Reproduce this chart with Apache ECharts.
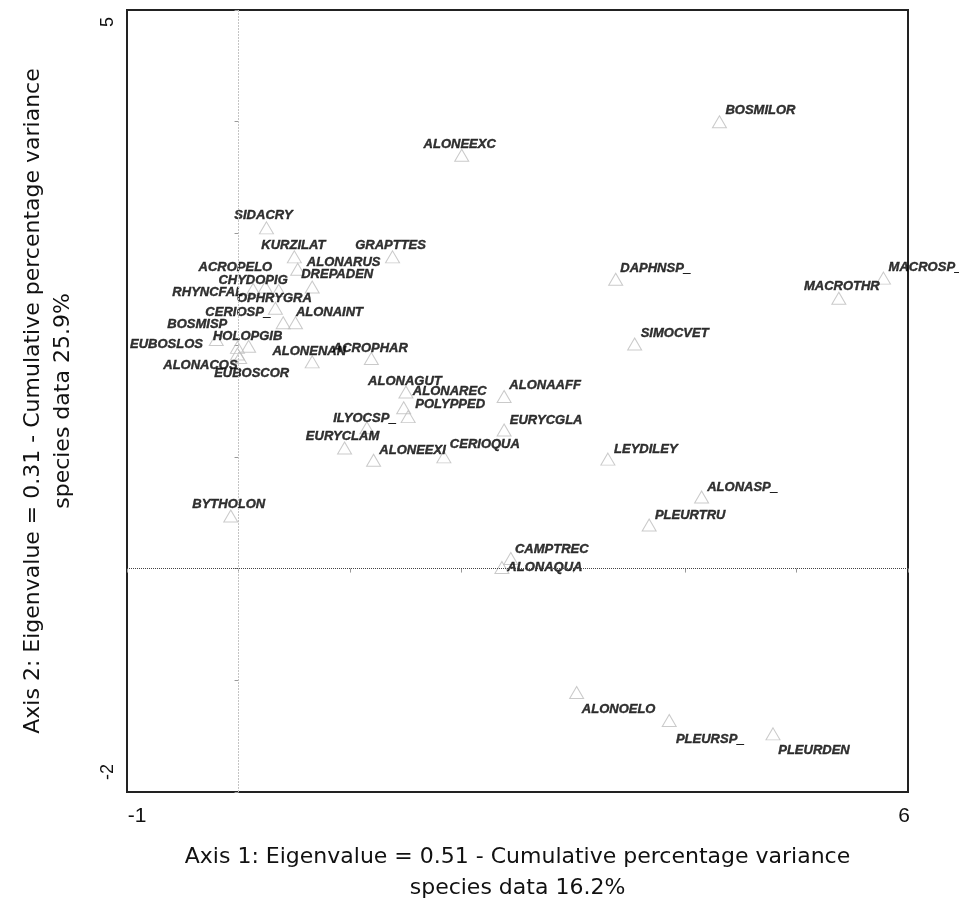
<!DOCTYPE html>
<html>
<head>
<meta charset="utf-8">
<script src="https://cdn.jsdelivr.net/npm/echarts@6/dist/echarts.min.js"></script>
<style>
  html, body { margin: 0; padding: 0; background: #fff; }
  #chart { width: 959px; height: 902px; }
</style>
</head>
<body>
<div id="chart"></div>
<script>
// Species scores on the first two ordination axes
const species = ['BOSMILOR','ALONEEXC','SIDACRY','KURZILAT','GRAPTTES','ALONARUS','DREPADEN','ACROPELO','CHYDOPIG','RHYNCFAL','OPHRYGRA','CERIOSP_','ALONAINT','BOSMISP','HOLOPGIB','EUBOSLOS','ALONACOS','EUBOSCOR','ALONENAN','ACROPHAR','ALONAGUT','ALONAREC','POLYPPED','ALONAAFF','ILYOCSP_','EURYCGLA','EURYCLAM','ALONEEXI','CERIOQUA','DAPHNSP_','MACROSP_','MACROTHR','SIMOCVET','LEYDILEY','ALONASP_','PLEURTRU','BYTHOLON','CAMPTREC','ALONAQUA','ALONOELO','PLEURSP_','PLEURDEN'];

const axis1 = [4.31, 2.00, 0.25, 0.50, 1.38, 0.53, 0.66, 0.24, 0.13, 0.36, 0.33, 0.40, 0.51, -0.20, 0.09, -0.01, -0.01, 0.01, 0.66, 1.19, 1.50, 1.48, 1.52, 2.38, 1.15, 2.38, 0.95, 1.21, 1.84, 3.38, 5.78, 5.38, 3.55, 3.31, 4.15, 3.68, -0.07, 2.44, 2.36, 3.03, 3.86, 4.79];

const axis2 = [4.00, 3.70, 3.05, 2.79, 2.79, 2.68, 2.52, 2.52, 2.50, 2.49, 2.33, 2.20, 2.20, 2.05, 1.99, 1.98, 1.92, 1.89, 1.85, 1.88, 1.58, 1.44, 1.36, 1.54, 1.26, 1.24, 1.08, 0.97, 1.00, 2.59, 2.60, 2.42, 2.01, 0.98, 0.64, 0.39, 0.47, 0.09, 0.01, -1.11, -1.36, -1.48];

const xTickLabels = [-1, 6];
const yTickLabels = [5, -2];

const xTitle = 'Axis 1: Eigenvalue = 0.51 - Cumulative percentage variance\nspecies data 16.2%';
const yTitle = 'Axis 2: Eigenvalue = 0.31 - Cumulative percentage variance\nspecies data 25.9%';

// Label placement around each triangle (pixel shift of the label centre)
const labelOffsets = {
  BOSMILOR: [41, -11], ALONEEXC: [-2, -11], SIDACRY: [-3, -12], KURZILAT: [-1, -11],
  GRAPTTES: [-2, -11], ALONARUS: [46, -7], DREPADEN: [25, -13], ACROPELO: [-30, -20],
  CHYDOPIG: [0, -9], RHYNCFAL: [-71, 2], OPHRYGRA: [-1, -10], CERIOSP_: [-45, -10],
  ALONAINT: [34, -10], BOSMISP: [-19, -15], HOLOPGIB: [-1, -10], EUBOSLOS: [-71, -3],
  ALONACOS: [-37, 11], EUBOSCOR: [12, 16], ALONENAN: [-3, -10], ACROPHAR: [-1, -10],
  ALONAGUT: [-1, -11], ALONAREC: [46, -16], POLYPPED: [42, -12], ALONAAFF: [41, -11],
  ILYOCSP_: [-2, -9], EURYCGLA: [42, -10], EURYCLAM: [-2, -11], ALONEEXI: [39, -10],
  CERIOQUA: [41, -12], DAPHNSP_: [40, -11], MACROSP_: [42, -11], MACROTHR: [3, -12],
  SIMOCVET: [40, -11], LEYDILEY: [38, -10], ALONASP_: [41, -10], PLEURTRU: [41, -10],
  BYTHOLON: [-2, -12], CAMPTREC: [41, -9], ALONAQUA: [43, 0], ALONOELO: [42, 17],
  PLEURSP_: [41, 19], PLEURDEN: [41, 17]
};

const baseFont = "'Liberation Sans', Arial, Helvetica, sans-serif";
const titleFont = "'DejaVu Sans', 'Liberation Sans', Arial, sans-serif";

const points = species.map((name, i) => ({ name: name, value: [axis1[i], axis2[i]] }));

const chart = echarts.init(document.getElementById('chart'), null, { renderer: 'canvas' });

chart.setOption({
  animation: false,
  backgroundColor: '#ffffff',
  grid: {
    left: 127, top: 10, width: 781, height: 782,
    containLabel: false, outerBoundsMode: 'none',
    show: true, borderColor: '#222', borderWidth: 2, backgroundColor: 'transparent'
  },
  xAxis: {
    type: 'value', min: -1, max: 6, interval: 1,
    splitLine: { show: false },
    axisLine: { show: false },
    axisTick: { show: true, length: 4, lineStyle: { color: '#999' } },
    axisLabel: {
      margin: 14,
      fontFamily: baseFont, fontSize: 21, color: '#111',
      formatter: v => v === xTickLabels[0] ? '{lo|' + v + '}' : (v === xTickLabels[1] ? '{hi|' + v + '}' : ''),
      rich: {
        lo: { fontFamily: baseFont, fontSize: 21, color: '#111', padding: [0, 0, 0, 20] },
        hi: { fontFamily: baseFont, fontSize: 21, color: '#111', padding: [0, 8, 0, 0] }
      }
    },
    name: xTitle, nameLocation: 'middle', nameGap: 50,
    nameTextStyle: { fontFamily: titleFont, fontSize: 22, color: '#111', lineHeight: 31 }
  },
  yAxis: {
    type: 'value', min: -2, max: 5, interval: 1,
    splitLine: { show: false },
    axisLine: { show: false },
    axisTick: { show: true, length: 4, lineStyle: { color: '#999' } },
    axisLabel: {
      rotate: 90, margin: 10,
      fontFamily: baseFont, fontSize: 18, color: '#111',
      formatter: v => v === yTickLabels[0] ? '{top|' + v + '}' : (v === yTickLabels[1] ? '{bot|' + v + '}' : ''),
      rich: {
        top: { fontFamily: baseFont, fontSize: 18, color: '#111', padding: [0, 24, 0, 0] },
        bot: { fontFamily: baseFont, fontSize: 18, color: '#111', padding: [0, 0, 0, 40] }
      }
    },
    name: yTitle, nameLocation: 'middle', nameGap: 49,
    nameTextStyle: { fontFamily: titleFont, fontSize: 22, color: '#111', lineHeight: 30 }
  },
  series: [{
    type: 'scatter',
    data: points,
    symbol: 'triangle',
    symbolSize: [14, 12],
    itemStyle: { color: 'rgba(255,255,255,0)', borderColor: '#bdbdbd', borderWidth: 1 },
    label: {
      show: true,
      position: 'inside',
      formatter: '{b}',
      fontFamily: baseFont,
      fontWeight: 'bold',
      fontStyle: 'italic',
      fontSize: 13,
      color: '#000',
      textBorderColor: '#000',
      textBorderWidth: 0.4
    },
    labelLayout: function (p) {
      const o = labelOffsets[species[p.dataIndex]] || [0, -11];
      return { dx: o[0], dy: o[1], hideOverlap: false };
    },
    markLine: {
      silent: true,
      symbol: 'none',
      label: { show: false },
      data: [
        { xAxis: 0, lineStyle: { color: '#c4c4c4', width: 1, type: [2, 1] } },
        { yAxis: 0, lineStyle: { color: '#444', width: 1, type: [1, 1] } }
      ]
    },
    z: 3
  }]
});
</script>
</body>
</html>
